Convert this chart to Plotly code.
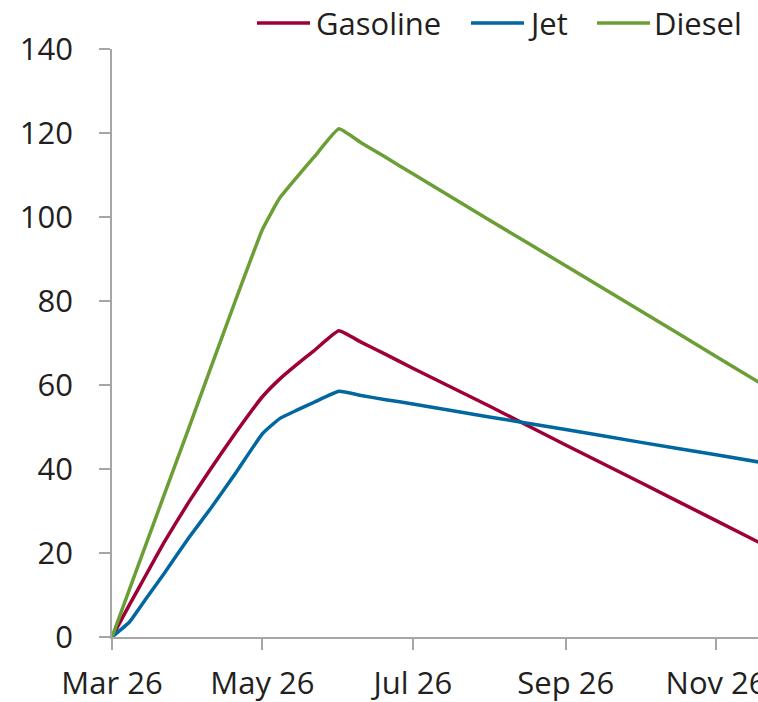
import plotly.graph_objects as go

# Observation dates
dates = [
    "2026-03-01", "2026-03-08", "2026-03-15", "2026-03-22", "2026-04-01",
    "2026-04-10", "2026-04-20", "2026-05-01", "2026-05-08", "2026-05-15",
    "2026-05-22", "2026-06-01", "2026-06-10", "2026-06-20", "2026-07-01",
    "2026-08-01", "2026-09-01", "2026-10-01", "2026-11-01", "2026-12-01",
]

gasoline = [0, 7.6, 15.0, 22.4, 32.0, 40.0, 48.5, 57.2, 61.4, 64.9, 68.2, 72.9,
            70.2, 67.3, 64.0, 55.0, 45.7, 36.9, 27.7, 18.8]
jet = [0, 3.5, 9.3, 15.0, 23.5, 30.6, 38.9, 48.4, 52.0, 54.0, 55.9, 58.5,
       57.5, 56.5, 55.5, 52.4, 49.4, 46.4, 43.4, 40.4]
diesel = [0, 11.2, 22.4, 33.6, 49.5, 64.0, 80.0, 97.0, 104.5, 109.5, 114.3, 121.0,
          117.7, 114.2, 110.3, 99.3, 88.4, 77.8, 66.8, 56.2]

series_names = ["Gasoline", "Jet", "Diesel"]
series_values = [gasoline, jet, diesel]
series_colors = ["#9E0036", "#0067A0", "#6B9F36"]

y_ticks = [0, 20, 40, 60, 80, 100, 120, 140]

W, H = 758, 702
M_L, M_R, M_T, M_B = 112, 0, 49, 65
FONT = "Open Sans, Noto Sans, sans-serif"
TEXT = "#231F20"
AXIS = "#A6A6A6"

fig = go.Figure()
for name, vals, col in zip(series_names, series_values, series_colors):
    fig.add_trace(go.Scatter(
        x=dates, y=vals, name=name, mode="lines",
        line=dict(color=col, width=3.5, shape="spline", smoothing=0.35),
        showlegend=False,
    ))

# Legend drawn as short line samples with labels above the plot
plot_w = W - M_L - M_R
plot_h = H - M_T - M_B


def px_x(p):
    return (p - M_L) / plot_w


def px_y(p):
    return (H - M_B - p) / plot_h


legend_items = [(257, 310, 314), (471, 524, 526), (597, 650, 652)]
legend_y = 23
for (x0, x1, xt), name, col in zip(legend_items, series_names, series_colors):
    fig.add_shape(type="line", xref="paper", yref="paper",
                  x0=px_x(x0), x1=px_x(x1), y0=px_y(legend_y), y1=px_y(legend_y),
                  line=dict(color=col, width=3.5))
    fig.add_annotation(text=name, xref="paper", yref="paper",
                       x=px_x(xt), y=px_y(legend_y), xanchor="left", yanchor="middle",
                       showarrow=False, font=dict(family=FONT, size=31, color=TEXT))

fig.update_layout(
    width=W, height=H, autosize=False,
    margin=dict(l=M_L, r=M_R, t=M_T, b=M_B, pad=0, autoexpand=False),
    paper_bgcolor="white", plot_bgcolor="white",
    font=dict(family=FONT, size=31, color=TEXT),
    showlegend=False,
)
fig.update_xaxes(
    type="date", range=["2026-03-01", "2026-11-18"],
    tick0="2026-03-01", dtick="M2", tickformat="%b %y",
    showgrid=False, zeroline=False, automargin=False,
    showline=True, linecolor=AXIS, linewidth=1.5,
    ticks="outside", ticklen=11, tickcolor=AXIS, tickwidth=1.5,
    ticklabelstandoff=7, ticklabeloverflow="allow",
    tickfont=dict(family=FONT, size=31, color=TEXT),
)
fig.update_yaxes(
    range=[0, 140], tickvals=y_ticks,
    showgrid=False, zeroline=False, automargin=False,
    showline=True, linecolor=AXIS, linewidth=1.5,
    ticks="outside", ticklen=11, tickcolor=AXIS, tickwidth=1.5,
    ticklabelstandoff=20, ticklabeloverflow="allow",
    tickfont=dict(family=FONT, size=31, color=TEXT),
)

fig.write_html("out.html")
